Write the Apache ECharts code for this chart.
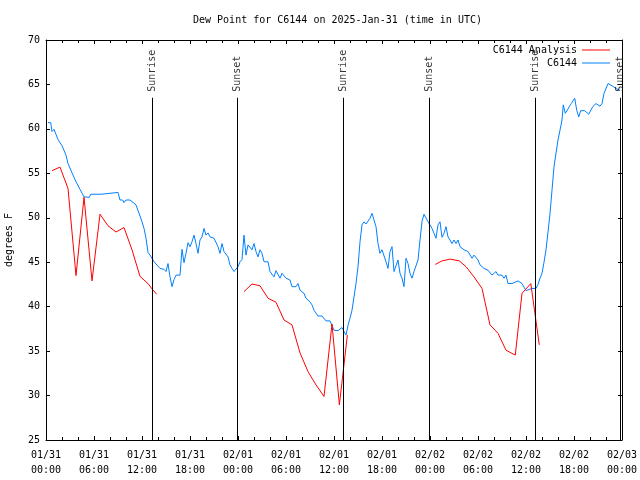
<!DOCTYPE html>
<html>
<head>
<meta charset="utf-8">
<script src="https://cdn.jsdelivr.net/npm/echarts@6/dist/echarts.min.js"></script>
<style>html,body{margin:0;padding:0;background:#fff}#c{width:640px;height:480px}</style>
</head>
<body>
<div id="c"></div>
<script>
// Hours since 2025-01-31 00:00 UTC
const xTickLabels = ['01/31\n00:00','01/31\n06:00','01/31\n12:00','01/31\n18:00','02/01\n00:00','02/01\n06:00','02/01\n12:00','02/01\n18:00','02/02\n00:00','02/02\n06:00','02/02\n12:00','02/02\n18:00','02/03\n00:00'];

// Observed dew point (C6144): [hour, degF]
const observed = [[0.25,60.7],[0.59,60.7],[0.75,59.7],[1.0,59.95],[1.25,59.95],[1.5,58.8],[1.75,58.7],[2.0,58.1],[2.25,58.0],[2.5,57.05],[2.75,56.1],[3.0,55.9],[3.25,55.05],[3.5,54.9],[3.75,54.05],[4.0,53.95],[4.25,53.2],[4.5,53.05],[4.75,52.35],[5.0,52.3],[5.41,52.3],[5.59,52.65],[6.91,52.65],[7.09,52.85],[9.0,52.85],[9.25,52.0],[9.59,52.0],[9.75,51.7],[10.0,52.0],[10.5,52.0],[10.75,51.8],[11.25,51.45],[11.5,51.3],[11.75,50.2],[12.0,49.55],[12.25,48.8],[12.5,47.7],[12.75,46.1],[13.0,45.8],[13.25,45.45],[13.5,45.05],[13.75,44.8],[14.0,44.7],[14.25,44.3],[14.5,44.1],[14.75,44.2],[15.0,43.95],[15.25,44.85],[15.5,43.35],[15.75,42.25],[16.0,43.05],[16.25,43.55],[16.75,43.55],[17.0,46.45],[17.25,44.95],[17.5,46.0],[17.75,47.2],[18.0,46.75],[18.25,47.3],[18.5,48.05],[18.75,47.1],[19.0,46.0],[19.25,47.5],[19.5,47.85],[19.75,48.8],[20.0,48.05],[20.25,48.3],[20.5,47.85],[20.75,48.05],[21.0,47.7],[21.25,47.5],[21.5,46.75],[21.75,46.0],[22.0,47.1],[22.25,46.2],[22.5,46.0],[22.75,45.6],[23.0,44.7],[23.25,44.3],[23.5,43.95],[23.75,44.1],[24.0,44.5],[24.25,45.05],[24.5,45.3],[24.75,48.05],[25.0,45.8],[25.25,46.95],[25.5,46.8],[25.75,46.4],[26.0,47.1],[26.25,46.2],[26.5,45.6],[26.75,46.4],[27.0,46.0],[27.25,45.05],[27.5,44.85],[27.75,45.05],[28.0,43.95],[28.25,44.1],[28.5,43.35],[28.75,44.05],[29.0,44.1],[29.25,43.2],[29.5,43.75],[29.75,43.55],[30.0,43.2],[30.5,43.0],[30.75,42.25],[31.25,42.25],[31.5,42.6],[31.75,41.85],[32.0,41.7],[32.25,41.5],[32.5,40.95],[32.75,40.95],[33.0,40.55],[33.25,40.2],[33.5,39.6],[33.75,39.45],[34.0,38.95],[34.5,38.95],[34.75,38.8],[35.0,38.4],[35.5,38.4],[35.75,38.6],[36.0,37.35],[36.5,37.3],[36.75,37.35],[37.0,37.65],[37.25,37.6],[37.5,36.8],[37.75,37.9],[38.0,38.7],[38.25,39.6],[38.5,41.1],[38.75,42.6],[39.0,44.5],[39.25,47.3],[39.5,49.2],[39.75,49.55],[40.0,49.3],[40.25,49.3],[40.5,49.95],[40.75,50.5],[41.0,50.7],[41.25,49.0],[41.5,47.1],[41.75,46.0],[42.0,46.4],[42.25,46.55],[42.5,45.05],[42.75,44.3],[43.0,46.2],[43.25,46.75],[43.5,43.95],[43.75,44.1],[44.0,45.25],[44.25,43.75],[44.5,43.2],[44.75,42.25],[45.0,45.45],[45.25,44.85],[45.5,43.75],[45.75,43.2],[46.0,43.95],[46.25,43.95],[46.5,45.25],[46.75,47.5],[47.0,49.6],[47.25,50.4],[47.5,50.2],[47.75,49.55],[48.0,49.2],[48.25,48.8],[48.5,48.25],[48.75,47.7],[49.0,49.2],[49.25,49.55],[49.5,47.8],[49.75,48.25],[50.0,49.0],[50.25,47.85],[50.5,47.5],[50.75,47.1],[51.0,47.5],[51.25,47.1],[51.5,47.5],[51.75,46.75],[52.0,46.55],[52.25,46.4],[52.5,46.4],[52.75,46.2],[53.0,46.2],[53.25,45.45],[53.5,45.8],[53.75,45.6],[54.0,45.25],[54.25,44.7],[54.5,44.85],[54.75,44.3],[55.0,44.1],[55.25,44.1],[55.5,43.95],[55.75,43.55],[56.0,43.55],[56.25,43.95],[56.5,43.55],[57.0,43.55],[57.25,43.2],[57.5,43.55],[57.75,42.6],[58.25,42.6],[58.5,42.8],[59.0,42.9],[59.25,42.8],[59.5,42.6],[59.75,42.2],[60.0,41.8],[60.25,41.95],[60.75,42.05],[61.25,42.05],[61.5,42.5],[61.75,43.2],[62.0,43.75],[62.25,45.0],[62.5,46.4],[62.75,48.4],[63.0,50.5],[63.25,53.1],[63.5,55.75],[63.75,57.25],[64.0,58.75],[64.25,59.85],[64.5,61.0],[64.66,62.7],[64.91,61.75],[65.16,62.1],[65.41,62.5],[65.66,62.85],[65.84,62.7],[66.09,63.45],[66.34,62.1],[66.59,61.35],[66.84,62.05],[67.34,62.05],[67.84,61.65],[68.34,62.5],[68.75,62.85],[69.25,62.55],[69.5,62.85],[69.75,64.0],[70.25,65.1],[70.5,65.3],[70.75,64.85],[71.25,64.55],[71.75,64.3]];

// Analysis dew point segments: [hour, degF]
const analysis1 = [[0.75,55.3],[1.75,55.7],[2.75,53.3],[3.75,43.5],[4.75,52.3],[5.75,42.9],[6.75,50.4],[7.75,49.1],[8.75,48.4],[9.75,48.9],[10.75,46.4],[11.75,43.4],[12.75,42.6],[13.25,42.0],[13.83,41.4]];
const analysis2 = [[24.75,41.7],[25.75,42.55],[26.75,42.35],[27.75,40.95],[28.75,40.5],[29.75,38.5],[30.75,37.95],[31.75,34.8],[32.75,32.7],[33.75,31.2],[34.75,29.9],[35.75,38.05],[36.67,28.95],[37.67,36.8]];
const analysis3 = [[48.66,44.75],[49.5,45.15],[50.5,45.35],[51.66,45.15],[52.5,44.5],[53.5,43.35],[54.5,42.05],[55.5,37.95],[56.5,37.0],[57.5,35.1],[58.66,34.55],[59.5,41.5],[60.6,42.6],[61.66,35.7]];

// Sun events
const sunTimes = [13.29, 23.91, 37.16, 47.91, 61.16, 71.84];
const sunNames = ['Sunrise','Sunset','Sunrise','Sunset','Sunrise','Sunset'];
const sunLineTop = 63.5;

const FONT = 'DejaVu Sans Mono';
const chart = echarts.init(document.getElementById('c'), null, {renderer: 'canvas'});

const axisCommon = {
  type: 'value', min: 0, max: 72, interval: 6,
  axisLine: {show: true, onZero: false, lineStyle: {color: '#000', width: 1}},
  axisTick: {show: true, inside: true, length: 4, lineStyle: {color: '#000'}},
  minorTick: {show: true, splitNumber: 3, length: 3, lineStyle: {color: '#000'}},
  splitLine: {show: false}
};
const yCommon = {
  type: 'value', min: 25, max: 70, interval: 5,
  axisLine: {show: true, onZero: false, lineStyle: {color: '#000', width: 1}},
  axisTick: {show: true, inside: true, length: 4, lineStyle: {color: '#000'}},
  splitLine: {show: false}
};

const markLines = sunTimes.map(t => [{coord: [t, 25]}, {coord: [t, sunLineTop]}]);
const legendCommon = {orient: 'vertical', right: 25, align: 'right', icon: 'rect',
  itemWidth: 28, itemHeight: 1, itemGap: 1,
  textStyle: {fontFamily: FONT, fontSize: 10, color: '#000'}};

chart.setOption({
  animation: false,
  backgroundColor: '#fff',
  title: {
    text: 'Dew Point for C6144 on 2025-Jan-31 (time in UTC)',
    left: 188, top: 10,
    textStyle: {fontFamily: FONT, fontSize: 10, fontWeight: 'normal', color: '#000'}
  },
  grid: {left: 46, right: 18, top: 40, bottom: 40, containLabel: false, outerBoundsMode: 'none'},
  legend: [
    Object.assign({}, legendCommon, {data: ['C6144 Analysis'], top: 40}),
    Object.assign({}, legendCommon, {data: ['C6144'], top: 53})
  ],
  xAxis: [
    Object.assign({}, axisCommon, {
      position: 'bottom',
      axisLabel: {show: true, margin: 8, lineHeight: 15, fontFamily: FONT, fontSize: 10, color: '#000',
        formatter: v => xTickLabels[Math.round(v / 6)]}
    }),
    Object.assign({}, axisCommon, {position: 'top', axisLabel: {show: false}})
  ],
  yAxis: [
    Object.assign({}, yCommon, {
      position: 'left',
      name: 'degrees F', nameLocation: 'middle', nameGap: 32,
      nameTextStyle: {fontFamily: FONT, fontSize: 10, color: '#000'},
      axisLabel: {show: true, margin: 6, fontFamily: FONT, fontSize: 10, color: '#000'}
    }),
    Object.assign({}, yCommon, {position: 'right', axisLabel: {show: false}})
  ],
  series: [
    {name: 'C6144 Analysis', type: 'line', data: analysis1, showSymbol: false, symbol: 'none',
     lineStyle: {color: '#ff0000', width: 1}, itemStyle: {color: '#ff0000'}, z: 3},
    {name: 'C6144 Analysis', type: 'line', data: analysis2, showSymbol: false, symbol: 'none',
     lineStyle: {color: '#ff0000', width: 1}, itemStyle: {color: '#ff0000'}, z: 3},
    {name: 'C6144 Analysis', type: 'line', data: analysis3, showSymbol: false, symbol: 'none',
     lineStyle: {color: '#ff0000', width: 1}, itemStyle: {color: '#ff0000'}, z: 3},
    {name: 'C6144', type: 'line', data: observed, showSymbol: false, symbol: 'none',
     lineStyle: {color: '#0080ff', width: 1}, itemStyle: {color: '#0080ff'}, z: 2},
    {name: 'sun', type: 'scatter', data: sunTimes.map((t, i) => [t, sunLineTop, sunNames[i]]),
     symbolSize: 0, z: 5,
     label: {show: true, position: 'top', distance: 6, rotate: 90, align: 'left', verticalAlign: 'middle',
       formatter: p => p.value[2], fontFamily: FONT, fontSize: 10, color: '#000'},
     markLine: {silent: true, symbol: 'none', label: {show: false},
       lineStyle: {color: '#000', width: 1, type: 'solid'}, data: markLines}}
  ]
});
</script>
</body>
</html>
